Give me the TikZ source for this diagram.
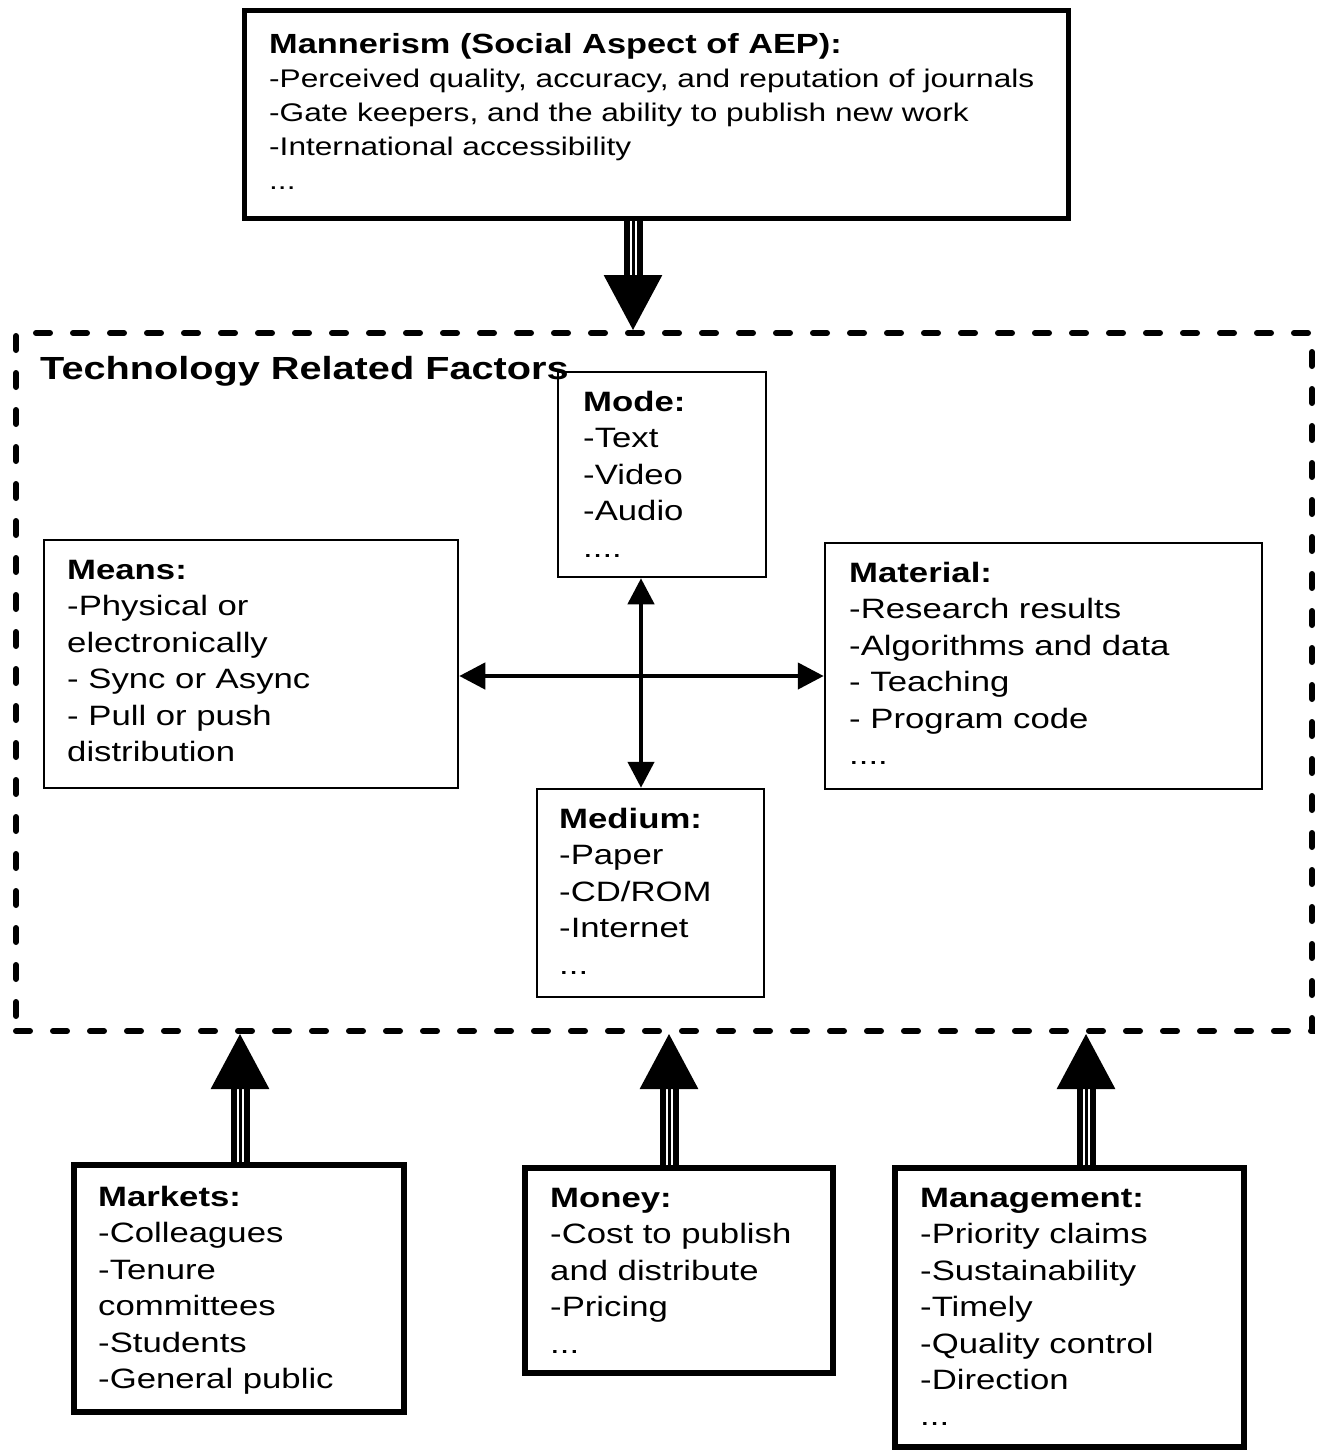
\documentclass[tikz,border=0pt]{standalone}
\usepackage{fontspec}
\setmainfont{Liberation Sans}[FakeStretch=1.24]
\usetikzlibrary{arrows.meta}

\begin{document}
\begin{tikzpicture}[
    x=1pt, y=-1pt,
    heavybox/.style={
        draw=black,
        line width=5.5pt,
        inner sep=0pt,
    },
    lightbox/.style={
        draw=black,
        line width=2.5pt,
        inner sep=0pt,
    },
    dashbox/.style={
        draw=black,
        line width=6pt,
        dash pattern=on 14pt off 23pt,
        line cap=round,
        inner sep=0pt,
    },
    boxtext/.style={
        anchor=north west,
        inner sep=0pt,
        align=left,
        font=\fontsize{28}{36.4}\selectfont
    },
    toptext/.style={
        anchor=north west,
        inner sep=0pt,
        align=left,
        font=\fontsize{25.5}{34}\selectfont
    },
    bigarrow/.style={
        draw=black,
        line width=3pt,
        -{Triangle[width=58pt, length=55pt]},
        preaction={draw=black, -, double=white, line width=6pt, double distance=7pt, shorten >=54pt}
    },
    crossarrow/.style={
        draw=black,
        line width=4.5pt,
        {Triangle[width=26pt, length=26pt]}-{Triangle[width=26pt, length=26pt]}
    }
]
    \useasboundingbox (0,0) rectangle (1323,1452);

    % top box
    \node[heavybox, minimum width=824pt, minimum height=208pt] (mannerism) at (656.5, 114.5) {};
    \node[toptext] (mannerismtext) at (269, 33) {{\fontsize{27.7}{34}\selectfont\bfseries Mannerism (Social Aspect of AEP):}\\
        -Perceived quality, accuracy, and reputation of journals\\
        -Gate keepers, and the ability to publish new work\\
        -International accessibility\\
        ...};

    % technology frame
    \node[dashbox, minimum width=1296pt, minimum height=698pt] (tech) at (664, 682) {};
    \node[anchor=north west, inner sep=0pt, font=\fontsize{32}{36}\selectfont\bfseries] (techtitle) at (40, 356) {Technology Related Factors};

    \node[lightbox, minimum width=208pt, minimum height=205pt] (mode) at (662, 474.5) {};
    \node[lightbox, minimum width=414pt, minimum height=248pt] (means) at (251, 664) {};
    \node[lightbox, minimum width=437pt, minimum height=246pt] (material) at (1043.5, 666) {};
    \node[lightbox, minimum width=227pt, minimum height=208pt] (medium) at (650.5, 893) {};

    \node[boxtext] (modetext) at (583, 391) {\textbf{Mode:}\\ -Text\\ -Video\\ -Audio\\ ....};
    \node[boxtext] (meanstext) at (67, 560) {\textbf{Means:}\\ -Physical or\\ electronically\\ - Sync or Async\\ - Pull or push\\ distribution};
    \node[boxtext] (materialtext) at (849, 562) {\textbf{Material:}\\ -Research results\\ -Algorithms and data\\ - Teaching\\ - Program code\\ ....};
    \node[boxtext] (mediumtext) at (559, 808) {\textbf{Medium:}\\ -Paper\\ -CD/ROM\\ -Internet\\ ...};

    \coordinate (cross) at (641, 676);
    \draw[crossarrow] (means.east |- cross) -- (material.west |- cross);
    \draw[crossarrow] (mode.south -| cross) -- (medium.north -| cross);

    % bottom boxes
    \node[heavybox, minimum width=330pt, minimum height=247pt] (markets) at (239, 1288.5) {};
    \node[heavybox, minimum width=308pt, minimum height=205pt] (money) at (679, 1270.5) {};
    \node[heavybox, minimum width=349pt, minimum height=279pt] (management) at (1069.5, 1307.5) {};

    \node[boxtext] (marketstext) at (98, 1186) {\textbf{Markets:}\\ -Colleagues\\ -Tenure\\ committees\\ -Students\\ -General public};
    \node[boxtext] (moneytext) at (550, 1188) {\textbf{Money:}\\ -Cost to publish\\ and distribute\\ -Pricing\\ ...};
    \node[boxtext] (managementtext) at (920, 1188) {\textbf{Management:}\\ -Priority claims\\ -Sustainability\\ -Timely\\ -Quality control\\ -Direction\\ ...};

    % block arrows
    \draw[bigarrow] ([xshift=-23.5pt]mannerism.south) -- ([xshift=-23.5pt]mannerism.south |- tech.north);
    \draw[bigarrow] ([xshift=1pt]markets.north) -- ([xshift=1pt]markets.north |- tech.south);
    \draw[bigarrow] ([xshift=-10pt]money.north) -- ([xshift=-10pt]money.north |- tech.south);
    \draw[bigarrow] ([xshift=16.5pt]management.north) -- ([xshift=16.5pt]management.north |- tech.south);
\end{tikzpicture}
\end{document}
